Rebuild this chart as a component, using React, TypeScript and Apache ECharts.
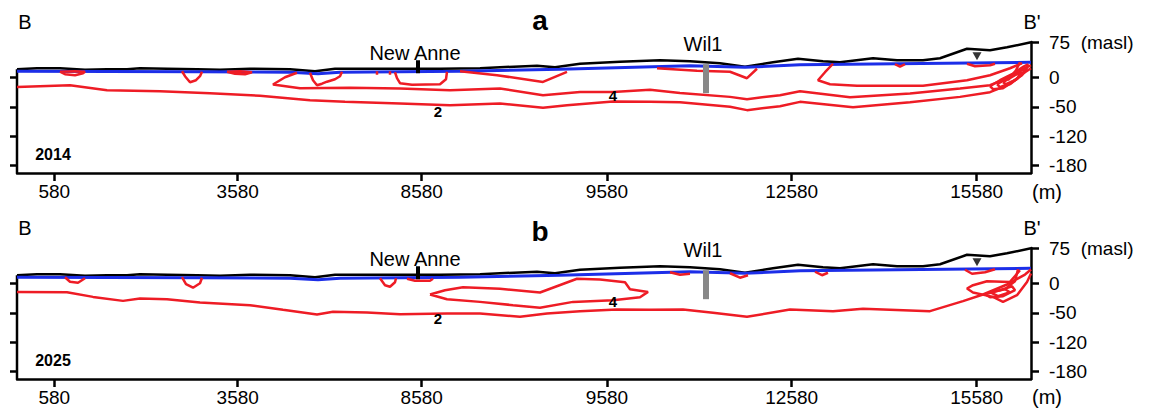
import React, { useEffect, useRef } from "react";
import * as echarts from "echarts";

const FONT = '"Liberation Sans", Arial, sans-serif';

// axis ticks (position along section / level on the section scale) and their printed labels
const xTickPos = [37.3, 220.7, 404.7, 590, 774.7, 959.7];
const xTickLabels = ["580", "3580", "8580", "9580", "12580", "15580"];
const yTickPos = [7.3, 37, 66.3, 95.7, 131.3];
const yTickLabels = ["-180", "-120", "-50", "0", "75  (masl)"];

type P = [number, number];

// land surface and water table (same section in both years)
const terrain: P[] = [[0,104],[20,105],[43,105],[68,103.5],[90,104],[110,104],[123,105],[150,104.5],[180,104],[203,103.5],[233,104.5],[273,104],[298,102],[318,104.5],[363,104.5],[423,104.5],[463,105],[483,106],[520,107.5],[538,106],[563,109.5],[603,111.5],[643,113],[673,112],[703,110],[728,106.5],[756,111],[781,114.5],[806,112],[823,111],[856,115],[880,113],[906,113],[923,115],[950,124.5],[973,123],[990,126],[1014,131]];
const waterTable: P[] = [[0,102],[183,101.5],[273,101],[301,99.5],[323,101],[443,102],[543,104],[673,107.5],[728,106],[783,108.5],[1014,111]];

// 2014 contours
const iso2_2014: P[] = [[0,86.3],[53,88],[90,83],[143,82],[193,80],[243,77.5],[293,73],[328,71.5],[383,69.7],[433,68],[483,69.7],[526,65.5],[550,68],[596,71.7],[633,71.3],[663,71],[713,66.3],[730,63],[763,67],[783,71.3],[836,66],[893,71],[943,76.3],[973,81],[993,89],[1008,101],[1014,105]];
const iso4_2014: P[] = [[280,100.5],[268,96],[256,88.7],[283,85],[333,85.5],[383,84.7],[433,83],[483,84.7],[526,78],[563,81.3],[596,81.3],[633,83.5],[663,80.3],[713,76.3],[730,74],[763,78],[783,82],[833,76],[893,79.7],[943,84.7],[973,88],[993,96],[1008,105],[1014,108]];
const pocketA_2014: P[] = [[443,102],[480,98],[526,91.3],[550,101.3]];
const pocketB_2014: P[] = [[640,105],[680,102.5],[713,101.5],[730,95],[740,104.5]];
const loopC_2014: P[] = [[816,109.5],[808,101],[801,93],[813,89],[840,87.5],[906,87.5],[950,93],[973,98],[993,105],[1005,110]];
const clA_2014: P[] = [[973,87],[983,93],[995,99],[1007,107],[1011,109],[1009,103],[998,93],[986,85],[976,84],[973,87]];
const clB_2014: P[] = [[980,89],[991,95],[1003,103],[1008,105],[1005,98],[993,90],[983,86],[980,89]];
const clC_2014: P[] = [[986,91],[998,98],[1005,101],[1000,94],[989,89],[986,91]];
const clD_2014: P[] = [[1003,111],[999,103],[991,93]];
const lens1_2014: P[] = [[43,101.5],[48,99],[58,98],[66,100],[68,101.5],[58,102],[43,101.5]];
const pit2_2014: P[] = [[165,102],[168,97],[173,91],[179,93],[183,97],[185,101.5]];
const lens3_2014: P[] = [[210,101.5],[218,99.5],[228,99],[235,101],[223,102],[210,101.5]];
const pit4_2014: P[] = [[293,100.5],[296,93],[300,88],[305,89.5],[310,91.5],[318,94],[323,97],[325,101.5]];
const dot1_2014: P[] = [[360,102],[360,98.5]];
const dot2_2014: P[] = [[373,102],[373,98.5]];
const box_2014: P[] = [[378,101],[380,95],[383,90],[395,88.5],[423,89],[429,94],[430,101.5]];
const blob_2014: P[] = [[878,109],[883,106.5],[888,109]];
const lensT_2014: P[] = [[950,109.5],[958,107],[973,108],[978,109.5]];

// 2025 contours
const iso2_2025: P[] = [[0,87.3],[50,87],[76,82.3],[106,78.3],[123,80.7],[150,80],[183,76.7],[233,74],[266,69.3],[300,64.7],[316,67.3],[350,66.7],[383,65],[430,65.7],[463,65.7],[503,62.3],[530,65.7],[563,68],[600,69.7],[633,69.5],[666,69.7],[696,66.3],[730,62.3],[773,69.7],[816,68],[846,70.3],[913,68],[946,78],[966,84.7],[990,94.7],[1008,104.7],[1014,109.7]];
const iso4_2025: P[] = [[413,84.7],[428,89],[446,92],[483,90.5],[523,86.7],[560,100.5],[583,99.7],[608,97],[613,90],[631,87.3],[623,82],[596,79],[556,77.3],[523,71.5],[496,74],[463,77.3],[430,80],[413,84.7]];
const lens1_2025: P[] = [[48,102],[53,97.5],[61,96.5],[68,101]];
const pit2_2025: P[] = [[165,102],[169,95],[176,91.5],[183,96],[185,101.5]];
const pit3_2025: P[] = [[363,101],[368,94],[373,92.5],[378,97],[379,101]];
const lens4_2025: P[] = [[390,100.5],[398,98.5],[413,98.5],[416,100.5]];
const lens5_2025: P[] = [[653,107],[663,104.5],[673,105.5]];
const pit6_2025: P[] = [[713,106],[723,101.5],[731,104]];
const pit7_2025: P[] = [[798,107.5],[805,104],[811,106.5]];
const lensT_2025: P[] = [[948,109.5],[955,105.5],[968,107],[978,110]];
const loop_2025: P[] = [[1003,109],[993,97.3],[970,98],[956,94],[950,90.7],[956,86.7],[976,82.3],[986,77.3],[1000,84],[1010,97.3],[1014,105.7]];
const clA_2025: P[] = [[968,85],[983,89],[995,93],[998,89],[986,83],[973,82],[968,85]];
const clB_2025: P[] = [[973,87],[988,90],[993,87],[981,83],[973,87]];
const clC_2025: P[] = [[1001,110],[998,98],[990,92]];

// wells / markers
const wil1Bar: P[] = [[689,80],[689,109]];
const newAnneMark: P[] = [[401,100],[401,113]];
const triangleMark: P = [960,117];
const siteNames = ["New Anne", "Wil1"];
const sitePos: P[] = [[398,120.5],[686,129.5]];
const contourNames = ["2", "4"];
const contourPos2014: P[] = [[421,61.3],[596,78]];
const contourPos2025: P[] = [[421,60.7],[596,78]];
const years = ["2014", "2025"];
const yearPos: P = [36,19];

const RED = "#ee1c25";
const BLUE = "#1c2ee8";

function nearestLabel(v: number, pos: number[], labels: string[]) {
  let b = 0;
  for (let i = 1; i < pos.length; i++) if (Math.abs(pos[i] - v) < Math.abs(pos[b] - v)) b = i;
  return labels[b];
}

export default function App() {
  const ref = useRef<HTMLDivElement>(null);
  useEffect(() => {
    if (!ref.current) return;
    const chart = echarts.init(ref.current, null, { renderer: "svg" });
    const tops = [42, 248];
    const grid = tops.map((t) => ({ left: 17, top: t, width: 1014, height: 131, containLabel: false }));
    const xAxis = tops.map((_, p) => ({
      gridIndex: p, type: "value", min: 0, max: 1014,
      axisLine: { onZero: false, lineStyle: { color: "#000", width: 2.5 } },
      axisTick: { customValues: xTickPos, length: 8, lineStyle: { color: "#000", width: 2.5 } },
      axisLabel: { customValues: xTickPos, formatter: (v: number) => nearestLabel(v, xTickPos, xTickLabels), fontSize: 19, color: "#000", fontFamily: FONT, margin: 9 },
      splitLine: { show: false },
    }));
    const yAxis: any[] = [];
    tops.forEach((_, p) => {
      yAxis.push({
        gridIndex: p, type: "value", position: "right", min: 0, max: 131.3,
        axisLine: { show: true, onZero: false, lineStyle: { color: "#000", width: 2.5 } },
        axisTick: { show: true, customValues: yTickPos, length: 8, lineStyle: { color: "#000", width: 2.5 } },
        axisLabel: { customValues: yTickPos, showMinLabel: true, showMaxLabel: true, formatter: (v: number) => nearestLabel(v, yTickPos, yTickLabels), fontSize: 19, color: "#000", fontFamily: FONT, margin: 18 },
        splitLine: { show: false },
      });
      yAxis.push({
        gridIndex: p, type: "value", position: "left", min: 0, max: 131.3,
        axisLine: { show: false, onZero: false },
        axisTick: { show: true, customValues: yTickPos.slice(0, 4), length: 7, lineStyle: { color: "#000", width: 2.5 } },
        axisLabel: { show: false },
        splitLine: { show: false },
      });
    });

    const line = (data: P[], color: string, width: number, p: number, z = 2, extra: any = {}) => ({
      type: "line", data, xAxisIndex: p, yAxisIndex: p * 2, symbol: "none", showSymbol: false,
      lineStyle: { color, width }, itemStyle: { color }, silent: true, z, animation: false, ...extra,
    });

    const series: any[] = [];
    const panels = [
      { reds: [iso2_2014, iso4_2014, pocketA_2014, pocketB_2014, loopC_2014, clA_2014, clB_2014, clC_2014, clD_2014, lens1_2014, pit2_2014, lens3_2014, pit4_2014, dot1_2014, dot2_2014, box_2014, blob_2014, lensT_2014], cpos: contourPos2014 },
      { reds: [iso2_2025, iso4_2025, lens1_2025, pit2_2025, pit3_2025, lens4_2025, lens5_2025, pit6_2025, pit7_2025, lensT_2025, loop_2025, clA_2025, clB_2025, clC_2025], cpos: contourPos2025 },
    ];
    panels.forEach((pn, p) => {
      series.push(line(terrain, "#000", 2.5, p, 2));
      series.push(line([[0, 0], [0, terrain[0][1]]], "#000", 2.5, p, 2, { clip: false }));
      series.push(line(waterTable, BLUE, 3, p, 3));
      pn.reds.forEach((d) => series.push(line(d, RED, 2.5, p, 4)));
      series.push(line(wil1Bar, "#888888", 6, p, 5));
      series.push(line(newAnneMark, "#000", 4, p, 5));
      series.push({
        type: "scatter", xAxisIndex: p, yAxisIndex: p * 2, symbol: "triangle", symbolRotate: 180, symbolSize: [9, 8],
        itemStyle: { color: "#000" }, data: [triangleMark], z: 6, silent: true,
      });
    });

    const txt = (x: number, y: number, text: string, size: number, bold = false) => ({
      type: "text", x, y, z: 100, style: { text, fontSize: size, fontWeight: bold ? "bold" : "normal", fontFamily: FONT, fill: "#000", align: "center", verticalAlign: "middle" },
    });
    const graphic: any[] = [
      txt(25, 21.7, "B", 20), txt(1032, 21.7, "B'", 20), txt(540, 20, "a", 28, true), txt(1047, 191.7, "(m)", 20),
      txt(25, 228, "B", 20), txt(1032, 228, "B'", 20), txt(540, 231, "b", 28, true), txt(1047, 397, "(m)", 20),
    ];

    chart.setOption({ animation: false, grid, xAxis, yAxis, series, graphic });

    // in-plot annotations placed through the panels' own scales
    panels.forEach((pn, p) => {
      const at = (v: P) => chart.convertToPixel({ xAxisIndex: p, yAxisIndex: p * 2 } as any, v) as number[];
      siteNames.forEach((n, i) => { const q = at(sitePos[i]); graphic.push(txt(q[0], q[1], n, 20)); });
      contourNames.forEach((n, i) => { const q = at(pn.cpos[i]); graphic.push(txt(q[0], q[1], n, 15, true)); });
      const q = at(yearPos);
      graphic.push(txt(q[0], q[1], years[p], 16, true));
    });
    chart.setOption({ graphic });
    return () => chart.dispose();
  }, []);
  return <div ref={ref} style={{ position: "fixed", left: 0, top: 0, width: 1153, height: 413, background: "#fff" }} />;
}
